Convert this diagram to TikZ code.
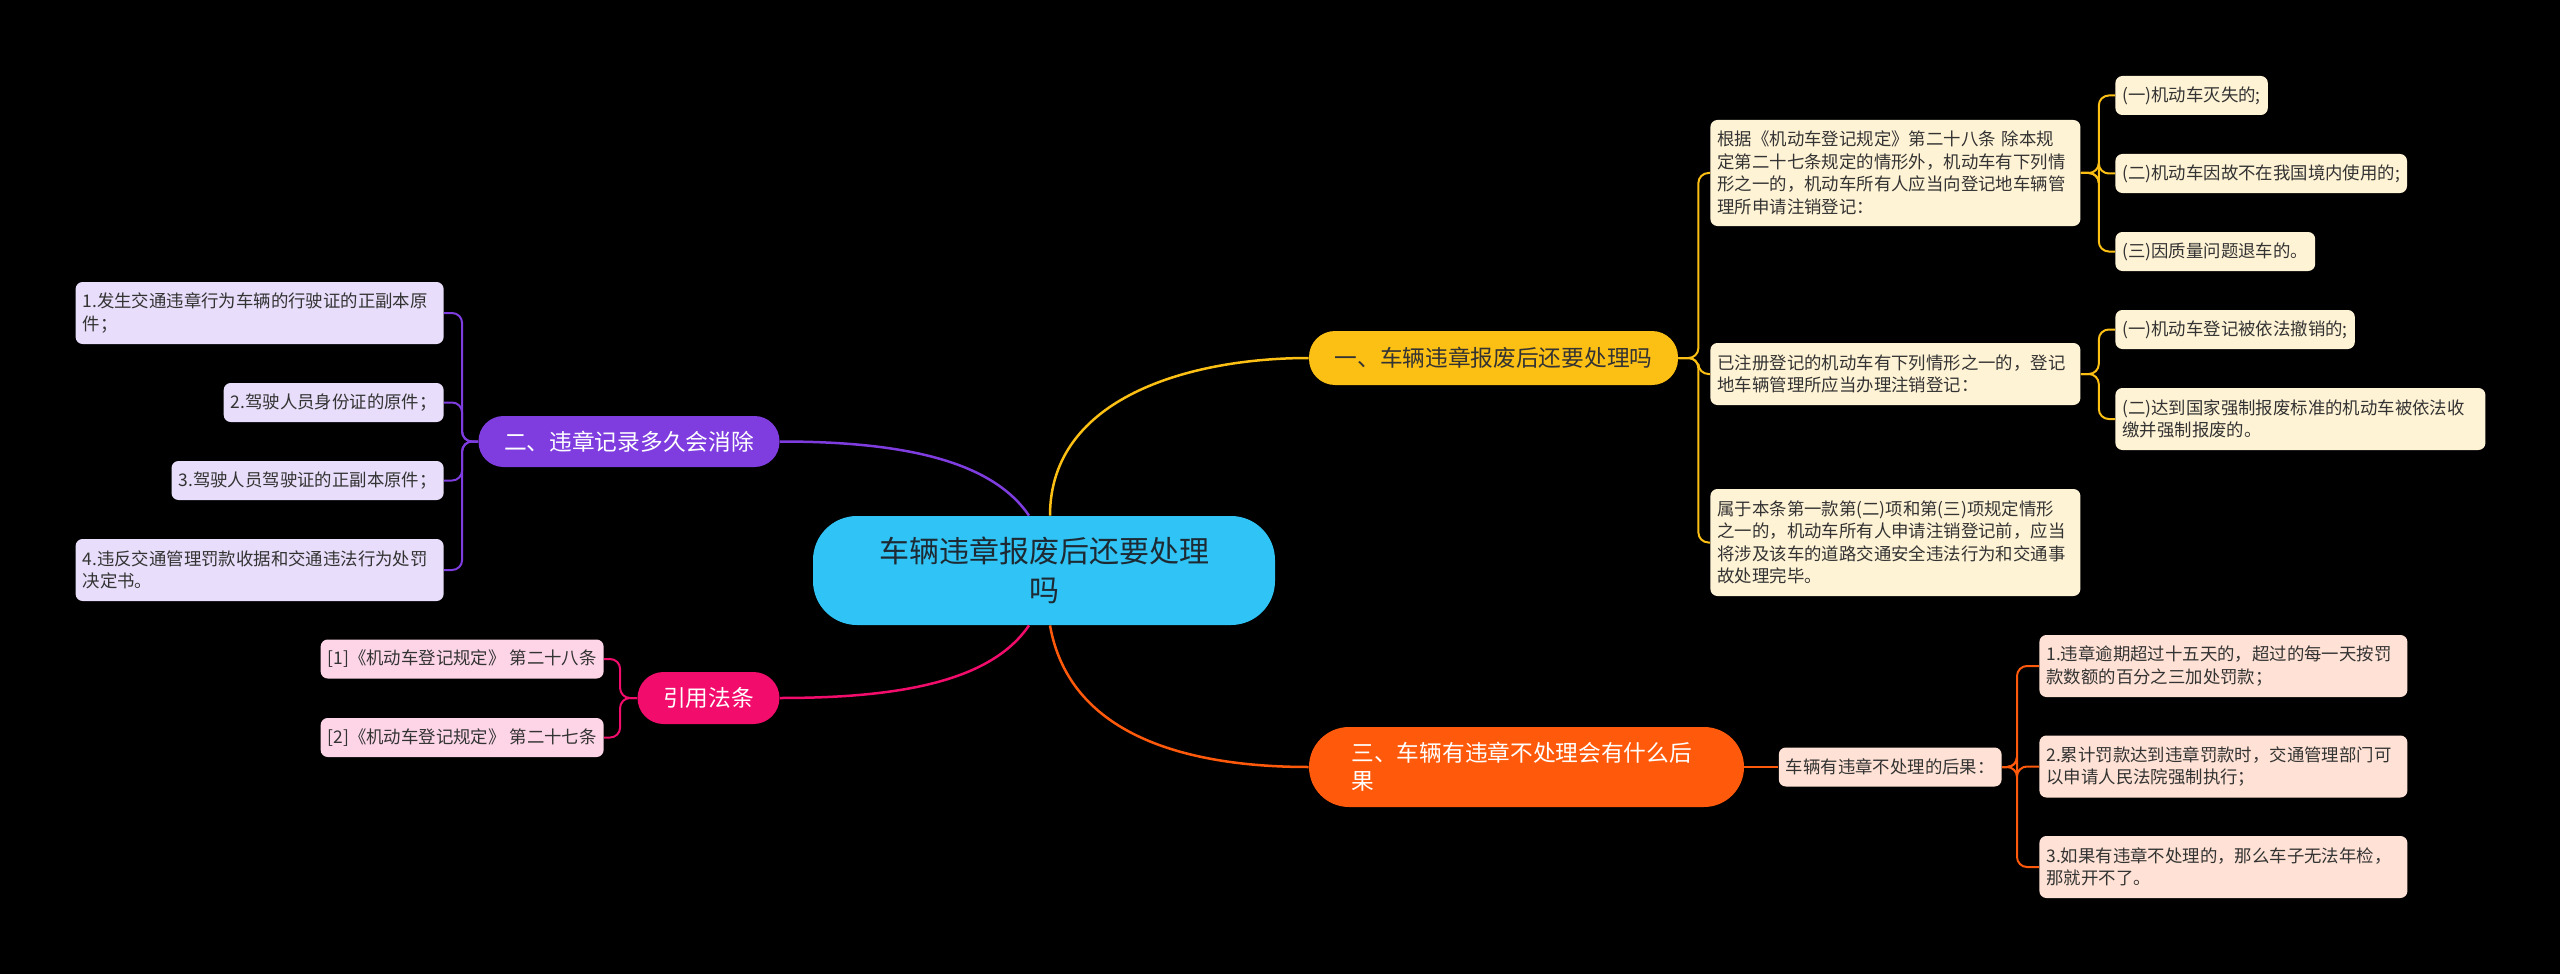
\documentclass[tikz,border=0pt]{standalone}
\usepackage{fontspec}
\setmainfont{Noto Sans CJK SC}
\usetikzlibrary{positioning,calc}
\definecolor{rootblue}{HTML}{2FC4F5}
\definecolor{roottext}{HTML}{1E2A33}
\definecolor{yellowc}{HTML}{FCBF14}
\definecolor{purplec}{HTML}{7F3DE0}
\definecolor{pinkc}{HTML}{F20C6C}
\definecolor{orangec}{HTML}{FF5A0B}
\definecolor{yellowleaf}{HTML}{FFF3D5}
\definecolor{purpleleaf}{HTML}{E8DDFA}
\definecolor{pinkleaf}{HTML}{FDD5E7}
\definecolor{orangeleaf}{HTML}{FFE2D5}
\definecolor{leaftext}{HTML}{333333}
\tikzset{
  rootnode/.style={
    fill=rootblue,
    text=roottext,
    rounded corners=22pt,
    minimum width=231pt,
    minimum height=54.5pt,
    inner sep=0pt,
    align=center,
    font=\fontsize{15}{19.5}\selectfont},
  topic/.style={
    fill=#1,
    text=white,
    inner sep=0pt,
    align=center,
    font=\fontsize{11.35}{14}\selectfont},
  leaf/.style={
    fill=#1,
    text=leaftext,
    rounded corners=3.5pt,
    inner xsep=3.5pt,
    inner ysep=2pt,
    minimum height=19.5pt,
    align=left,
    font=\fontsize{8.7}{11.25}\selectfont},
  link/.style={draw=#1, line width=1.25pt},
  twig/.style={draw=#1, line width=1pt, rounded corners=5pt},
}
\begin{document}
\begin{tikzpicture}[x=0.5pt,y=-0.5pt]
  \useasboundingbox (0,0) rectangle (2560,974);
  \fill[black] (0,0) rectangle (2560,974);

  % main nodes
  \node[rootnode] (root) at (1044,570.5) {车辆违章报废后还要处理\\吗};
  \node[topic=yellowc, text=leaftext, rounded corners=13pt, minimum width=184.5pt, minimum height=27pt] (t1) at (1493.5,358) {一、车辆违章报废后还要处理吗};
  \node[topic=purplec, rounded corners=12.5pt, minimum width=150.5pt, minimum height=25.5pt] (t2) at (629,441.5) {二、违章记录多久会消除};
  \node[topic=orangec, rounded corners=20pt, minimum width=217.5pt, minimum height=40pt, text width=175pt, align=left] (t3) at (1526.5,767) {三、车辆有违章不处理会有什么后\\果};
  \node[topic=pinkc, rounded corners=13pt, minimum width=71pt, minimum height=26pt] (t4) at (708.5,698) {引用法条};

  % branch one
  \node[leaf=yellowleaf, anchor=west, text width=178pt, minimum height=53pt] (a1) at (1710,173) {根据《机动车登记规定》第二十八条 除本规\\定第二十七条规定的情形外，机动车有下列情\\形之一的，机动车所有人应当向登记地车辆管\\理所申请注销登记：};
  \node[leaf=yellowleaf, anchor=west, text width=178pt, minimum height=31pt] (a2) at (1710,374) {已注册登记的机动车有下列情形之一的，登记\\地车辆管理所应当办理注销登记：};
  \node[leaf=yellowleaf, anchor=west, text width=178pt, minimum height=53.5pt] (a3) at (1710,542.5) {属于本条第一款第(二)项和第(三)项规定情形\\之一的，机动车所有人申请注销登记前，应当\\将涉及该车的道路交通安全违法行为和交通事\\故处理完毕。};
  \node[leaf=yellowleaf, anchor=west] (a11) at (2115,95.5) {(一)机动车灭失的;};
  \node[leaf=yellowleaf, anchor=west] (a12) at (2115,173.5) {(二)机动车因故不在我国境内使用的;};
  \node[leaf=yellowleaf, anchor=west] (a13) at (2115,251.5) {(三)因质量问题退车的。};
  \node[leaf=yellowleaf, anchor=west] (a21) at (2115,329.5) {(一)机动车登记被依法撤销的;};
  \node[leaf=yellowleaf, anchor=west, text width=178pt, minimum height=31pt] (a22) at (2115,419) {(二)达到国家强制报废标准的机动车被依法收\\缴并强制报废的。};

  % branch two
  \node[leaf=purpleleaf, anchor=east, text width=177pt, minimum height=31pt] (b1) at (444,313) {1.发生交通违章行为车辆的行驶证的正副本原\\件；};
  \node[leaf=purpleleaf, anchor=east] (b2) at (444,402.5) {2.驾驶人员身份证的原件；};
  \node[leaf=purpleleaf, anchor=east] (b3) at (444,480.5) {3.驾驶人员驾驶证的正副本原件；};
  \node[leaf=purpleleaf, anchor=east, text width=177pt, minimum height=31pt] (b4) at (444,570) {4.违反交通管理罚款收据和交通违法行为处罚\\决定书。};

  % branch three
  \node[leaf=orangeleaf, right=17pt of t3] (c0) {车辆有违章不处理的后果：};
  \node[leaf=orangeleaf, anchor=west, text width=177pt, minimum height=31pt] (c1) at (2039,666) {1.违章逾期超过十五天的，超过的每一天按罚\\款数额的百分之三加处罚款；};
  \node[leaf=orangeleaf, anchor=west, text width=177pt, minimum height=31pt] (c2) at (2039,766.5) {2.累计罚款达到违章罚款时，交通管理部门可\\以申请人民法院强制执行；};
  \node[leaf=orangeleaf, anchor=west, text width=177pt, minimum height=31pt] (c3) at (2039,867) {3.如果有违章不处理的，那么车子无法年检，\\那就开不了。};

  % references
  \node[leaf=pinkleaf, anchor=east] (d1) at (604,659) {[1]《机动车登记规定》 第二十八条};
  \node[leaf=pinkleaf, anchor=east] (d2) at (604,737.5) {[2]《机动车登记规定》 第二十七条};

  % links from the root
  \path[link=yellowc] ([xshift=3pt]root.north) to[out=90,in=180] (t1.west);
  \path[link=purplec] ([xshift=-7.5pt]root.north) .. controls +(-38,-56) and +(120,0) .. (t2.east);
  \path[link=pinkc] ([xshift=-7.5pt]root.south) .. controls +(-38,56) and +(120,0) .. (t4.east);
  \path[link=orangec] ([xshift=3pt]root.south) to[out=-80,in=180] (t3.west);

  % twigs
  \foreach \n in {a1,a2,a3}
    \path[twig=yellowc] (t1.east) -- ([xshift=10pt]t1.east) |- (\n.west);
  \foreach \n in {a11,a12,a13}
    \path[twig=yellowc] (a1.east) -- ([xshift=9pt]a1.east) |- (\n.west);
  \foreach \n in {a21,a22}
    \path[twig=yellowc] (a2.east) -- ([xshift=9pt]a2.east) |- (\n.west);
  \foreach \n in {b1,b2,b3,b4}
    \path[twig=purplec] (t2.west) -- ([xshift=-8pt]t2.west) |- (\n.east);
  \foreach \n in {d1,d2}
    \path[twig=pinkc] (t4.west) -- ([xshift=-8.5pt]t4.west) |- (\n.east);
  \path[twig=orangec] (t3.east) -- (c0.west);
  \foreach \n in {c1,c2,c3}
    \path[twig=orangec] (c0.east) -- ([xshift=7.5pt]c0.east) |- (\n.west);
\end{tikzpicture}
\end{document}
